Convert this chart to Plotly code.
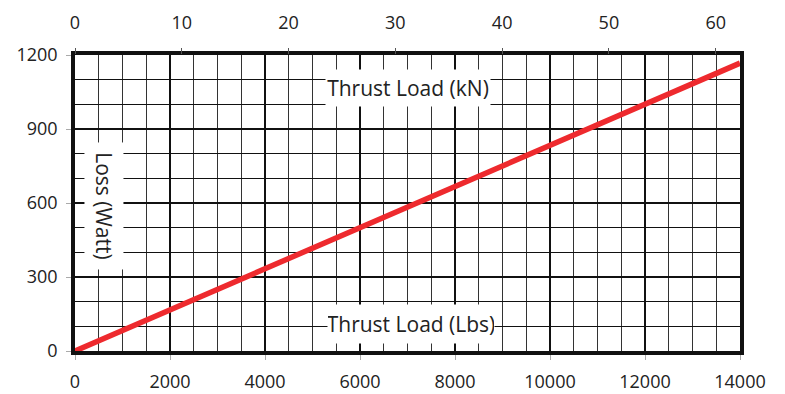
import plotly.graph_objects as go

thrust_lbs = [0, 14000]
loss_watt = [0, 1167]
kn_per_lb = 0.0044482
x_ticks = [0, 2000, 4000, 6000, 8000, 10000, 12000, 14000]
x_labels = ["0", "2000", "4000", "6000", "8000", "10000", "12000", "14000"]
kn_ticks = [0, 10, 20, 30, 40, 50, 60]
y_ticks = [0, 300, 600, 900, 1200]

fig = go.Figure()
fig.add_trace(go.Scatter(x=thrust_lbs, y=loss_watt, mode="lines",
                         line=dict(color="#ee2a2e", width=5.5), showlegend=False,
                         cliponaxis=False))
fig.add_trace(go.Scatter(x=[0, 14000 * kn_per_lb], y=[None, None], xaxis="x2",
                         showlegend=False, hoverinfo="skip"))

font = dict(family="Open Sans", size=18, color="#222222")
lab = dict(family="Open Sans", size=21, color="#222222")
# page body has an 8px margin; figure sized to fill the rest of the window
fig.update_layout(
    width=777, height=386,
    margin=dict(l=67, r=45, t=47, b=43, autoexpand=False),
    paper_bgcolor="white", plot_bgcolor="white",
    font=font,
    xaxis=dict(range=[0, 14000], tickvals=x_ticks, ticktext=x_labels, showgrid=True,
               gridcolor="#111111", gridwidth=2.2, automargin=False,
               minor=dict(dtick=500, tick0=0, showgrid=True, gridcolor="#333333", gridwidth=1.4),
               showline=True, linecolor="#111111", linewidth=3.5, mirror=True,
               ticks="outside", ticklen=5, tickcolor="#aaaaaa", zeroline=False,
               ticklabelstandoff=7, tickfont=font),
    xaxis2=dict(range=[0, 14000 * kn_per_lb], tickvals=kn_ticks, overlaying="x",
                side="top", showgrid=False, ticks="outside", ticklen=6, automargin=False,
                tickcolor="#555555", zeroline=False, ticklabelstandoff=12, tickfont=font),
    yaxis=dict(range=[0, 1200], tickvals=y_ticks, showgrid=True,
               gridcolor="#111111", gridwidth=2.2, automargin=False,
               minor=dict(dtick=100, tick0=0, showgrid=True, gridcolor="#111111", gridwidth=1.4),
               showline=True, linecolor="#111111", linewidth=3.5, mirror=True,
               ticks="outside", ticklen=5, tickcolor="#aaaaaa", zeroline=False,
               ticklabelstandoff=5, tickfont=font),
)

fig.add_annotation(text="Thrust Load (kN)", xref="paper", yref="paper",
                   x=0.5008, y=0.89, xanchor="center", yanchor="middle",
                   showarrow=False, bgcolor="white", font=lab,
                   width=164, height=36, borderpad=0)
fig.add_annotation(text="Thrust Load (Lbs)", xref="paper", yref="paper",
                   x=0.505, y=0.091, xanchor="center", yanchor="middle",
                   showarrow=False, bgcolor="white", font=lab,
                   width=166, height=38, borderpad=0)
fig.add_annotation(text="Loss (Watt)", xref="paper", yref="paper",
                   x=0.0436, y=0.49, xanchor="center", yanchor="middle",
                   showarrow=False, bgcolor="white", textangle=90, font=lab,
                   width=126, height=38, borderpad=0)

fig.write_html("out.html")
